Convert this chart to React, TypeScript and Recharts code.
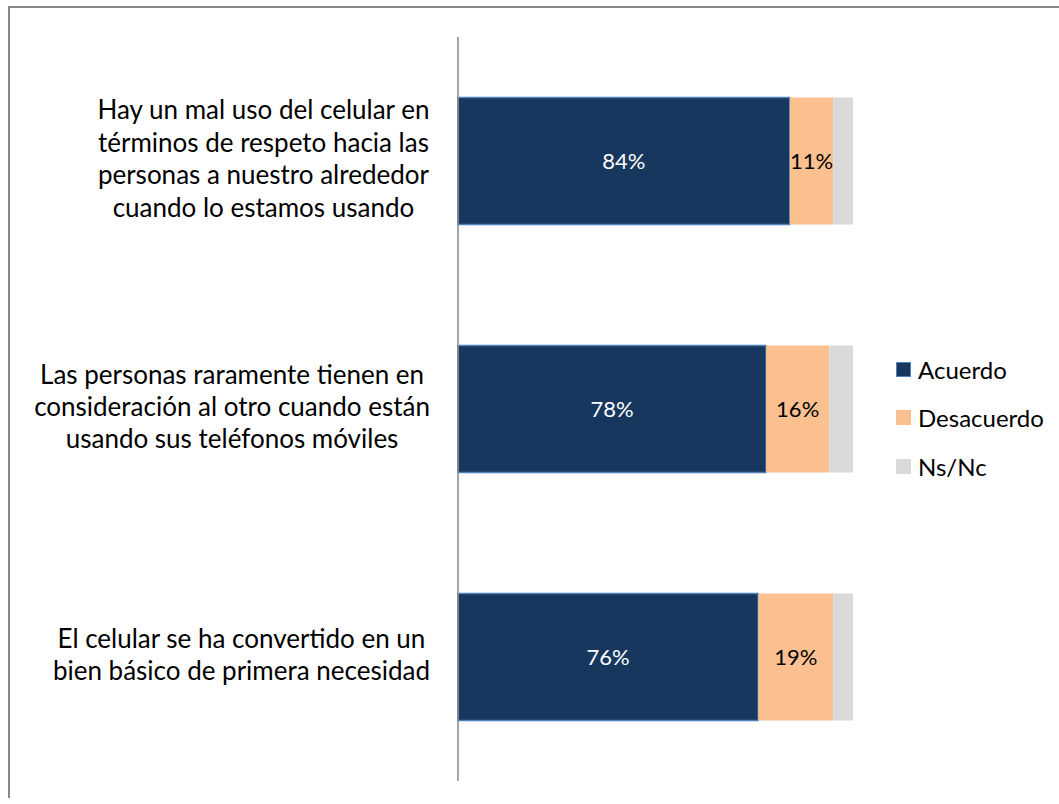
import React from "react";
import { BarChart, Bar, XAxis, YAxis, LabelList } from "recharts";

const categories = [
  "Hay un mal uso del celular en\ntérminos de respeto hacia las\npersonas a nuestro alrededor\ncuando lo estamos usando",
  "Las personas raramente tienen en\nconsideración al otro cuando están\nusando sus teléfonos móviles",
  "El celular se ha convertido en un\nbien básico de primera necesidad",
];
const acuerdo = [84, 78, 76];
const desacuerdo = [11, 16, 19];
const nsnc = [5, 6, 5];
const seriesNames = ["Acuerdo", "Desacuerdo", "Ns/Nc"];
const seriesColors = ["#17375E", "#FAC090", "#D9D9D9"];

const data = categories.map((name, i) => ({
  name,
  acuerdo: acuerdo[i],
  desacuerdo: desacuerdo[i],
  nsnc: nsnc[i],
}));

const FONT = "Lato, sans-serif";
const CAT_SIZE = 26;

let ctx: CanvasRenderingContext2D | null = null;
function textWidth(s: string) {
  if (!ctx) ctx = document.createElement("canvas").getContext("2d");
  if (!ctx) return s.length * CAT_SIZE * 0.45;
  ctx.font = `${CAT_SIZE}px Lato`;
  return ctx.measureText(s).width;
}

// label block is right-aligned next to the axis, lines centred inside it
function CategoryTick(props: any) {
  const { x, y, payload } = props;
  const lines = String(payload.value).split("\n");
  const lh = 32.4;
  const blockW = Math.max(...lines.map(textWidth));
  const cx = x - 20 - blockW / 2;
  return (
    <text x={cx} y={y} textAnchor="middle" fill="#000" fontSize={CAT_SIZE} fontFamily={FONT}>
      {lines.map((l, i) => (
        <tspan key={i} x={cx} dy={i === 0 ? -((lines.length - 1) / 2) * lh + 7 : lh}>
          {l}
        </tspan>
      ))}
    </text>
  );
}

const pct = (v: any) => `${v}%`;

export default function App() {
  return (
    <div
      style={{
        position: "absolute",
        top: 6,
        left: 8,
        width: 1049,
        height: 790,
        borderTop: "2px solid #888",
        borderLeft: "2px solid #888",
        background: "#fff",
        fontFamily: FONT,
        overflow: "hidden",
      }}
    >
      <BarChart
        width={1049}
        height={780}
        data={data}
        layout="vertical"
        margin={{ top: 29, right: 206, bottom: 7, left: 0 }}
        barCategoryGap="24.4%"
      >
        <XAxis type="number" domain={[0, 100]} hide />
        <YAxis
          type="category"
          dataKey="name"
          width={448}
          axisLine={{ stroke: "#888", strokeWidth: 1.5 }}
          tickLine={false}
          tick={<CategoryTick />}
          interval={0}
        />
        <Bar dataKey="acuerdo" stackId="a" fill={seriesColors[0]} stroke="#4F81BD" strokeWidth={1.5} isAnimationActive={false}>
          <LabelList dataKey="acuerdo" position="center" formatter={pct} fill="#fff" fontSize={22} fontFamily={FONT} />
        </Bar>
        <Bar dataKey="desacuerdo" stackId="a" fill={seriesColors[1]} isAnimationActive={false}>
          <LabelList dataKey="desacuerdo" position="center" formatter={pct} fill="#000" fontSize={22} fontFamily={FONT} />
        </Bar>
        <Bar dataKey="nsnc" stackId="a" fill={seriesColors[2]} isAnimationActive={false} />
      </BarChart>
      <div style={{ position: "absolute", left: 886, top: 337 }}>
        {seriesNames.map((n, i) => (
          <div key={n} style={{ display: "flex", alignItems: "center", height: 48.5, fontSize: 24, color: "#000" }}>
            <span
              style={{
                display: "inline-block",
                width: i === 0 ? 13 : 15,
                height: i === 0 ? 13 : 15,
                background: seriesColors[i],
                border: i === 0 ? "1px solid #4F81BD" : "none",
                marginRight: 7,
              }}
            />
            {n}
          </div>
        ))}
      </div>
    </div>
  );
}
